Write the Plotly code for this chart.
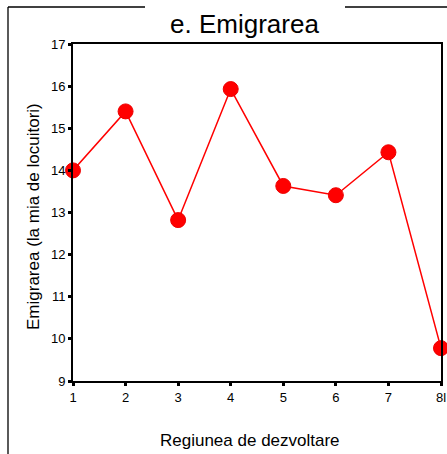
import plotly.graph_objects as go

regions = [1, 2, 3, 4, 5, 6, 7, 8]
emigration = [14.0, 15.4, 12.82, 15.93, 13.63, 13.41, 14.43, 9.78]
x_tick_vals = [1, 2, 3, 4, 5, 6, 7, 8]
x_tick_text = ["1", "2", "3", "4", "5", "6", "7", "8l"]
y_tick_vals = [9, 10, 11, 12, 13, 14, 15, 16, 17]
title_text = "e. Emigrarea"
x_title = "Regiunea de dezvoltare"
y_title = "Emigrarea (la mia de locuitori)"

W, H = 447, 454
L, R, T, B = 73, 6, 44, 73
pw, ph = W - L - R, H - T - B

def px(x):
    return (x - L) / pw

def py(y):
    return 1 - (y - T) / ph

fig = go.Figure()
fig.add_trace(go.Scatter(
    x=regions, y=emigration, mode="lines+markers",
    line=dict(color="#ff0000", width=1.5),
    marker=dict(color="#ff0000", size=15, line=dict(color="#ee0000", width=1)),
    cliponaxis=False, showlegend=False,
))

font = "Liberation Sans, Arial, sans-serif"
fig.update_layout(
    width=W, height=H, autosize=False,
    margin=dict(l=L, r=R, t=T, b=B, autoexpand=False),
    paper_bgcolor="white", plot_bgcolor="white",
    font=dict(family=font, color="black", size=13),
    xaxis=dict(range=[1, 8], tickvals=x_tick_vals, ticktext=x_tick_text, automargin=False,
               showgrid=False, zeroline=False, showline=True, linecolor="black", linewidth=2,
               mirror=True, ticks="outside", ticklen=3, tickwidth=3, tickcolor="black",
               tickfont=dict(size=13, family=font)),
    yaxis=dict(range=[9, 17], tickvals=y_tick_vals, automargin=False,
               showgrid=False, zeroline=False, showline=True, linecolor="black", linewidth=2,
               mirror=True, ticks="outside", ticklen=3, tickwidth=3, tickcolor="black",
               tickfont=dict(size=13, family=font)),
)

fig.add_annotation(text=title_text, xref="paper", yref="paper", x=px(244), y=py(24),
                   xanchor="center", yanchor="middle", showarrow=False,
                   font=dict(size=26, family=font, color="black"))
fig.add_annotation(text=x_title, xref="paper", yref="paper", x=px(250), y=py(440),
                   xanchor="center", yanchor="middle", showarrow=False,
                   font=dict(size=17, family=font, color="black"))
fig.add_annotation(text=y_title, xref="paper", yref="paper", x=px(33), y=py(217),
                   xanchor="center", yanchor="middle", showarrow=False, textangle=-90,
                   font=dict(size=17, family=font, color="black"))

# outer border with gap for title
border = dict(color="black", width=1.3)
fig.add_shape(type="line", xref="paper", yref="paper", x0=px(8), y0=py(7), x1=px(8), y1=py(460), line=border)
fig.add_shape(type="line", xref="paper", yref="paper", x0=px(8), y0=py(7), x1=px(145), y1=py(7), line=border)
fig.add_shape(type="line", xref="paper", yref="paper", x0=px(345), y0=py(7), x1=px(460), y1=py(7), line=border)

fig.write_html("out.html", config={"displayModeBar": False},
               post_script="document.body.style.margin='0';document.body.style.overflow='hidden';")
